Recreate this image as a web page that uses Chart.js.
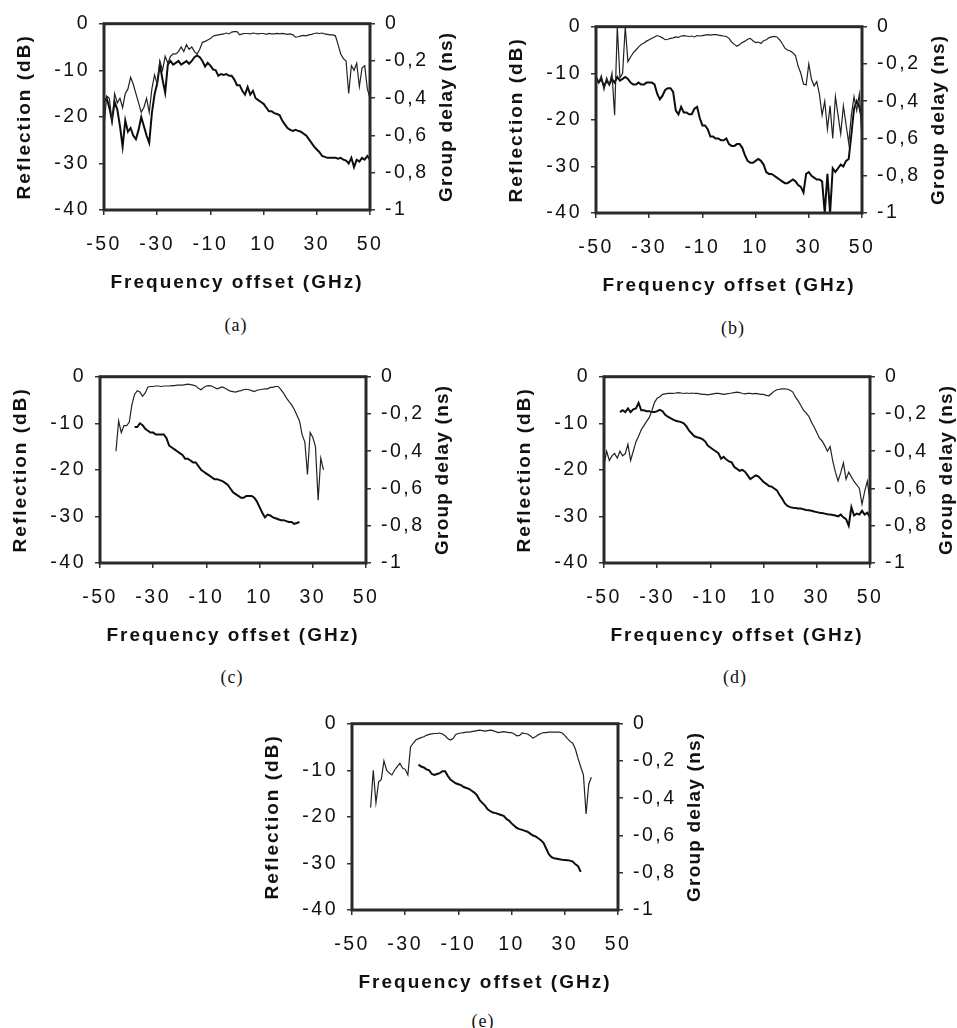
<!DOCTYPE html>
<html><head><meta charset="utf-8">
<script src="https://cdn.jsdelivr.net/npm/chart.js@4.4.1/dist/chart.umd.min.js"></script>
<style>
html,body{margin:0;padding:0;background:#fff;width:957px;height:1028px;overflow:hidden;position:relative}
canvas{position:absolute}
.cap{position:absolute;font-family:'Liberation Serif','Times New Roman',serif;font-size:18px;color:#111;transform:translate(-50%,-50%);letter-spacing:1px;white-space:nowrap}
</style></head><body>
<script>
// ---------------- DATA ----------------
const freqGHz = [-50,-49,-48,-47,-46,-45,-44,-43,-42,-41,-40,-39,-38,-37,-36,-35,-34,-33,-32,-31,-30,-29,-28,-27,-26,-25,-24,-23,-22,-21,-20,-19,-18,-17,-16,-15,-14,-13,-12,-11,-10,-9,-8,-7,-6,-5,-4,-3,-2,-1,0,1,2,3,4,5,6,7,8,9,10,11,12,13,14,15,16,17,18,19,20,21,22,23,24,25,26,27,28,29,30,31,32,33,34,35,36,37,38,39,40,41,42,43,44,45,46,47,48,49,50];
const xTickValues = [-50,-30,-10,10,30,50];
const reflTickValues = [-40,-30,-20,-10,0];
const delayTickValues = [-1,-0.8,-0.6,-0.4,-0.2,0];
const delayTickLabels = ['-1','-0,8','-0,6','-0,4','-0,2','0'];
const xTitle = 'Frequency offset (GHz)';
const reflTitle = 'Reflection (dB)';
const delayTitle = 'Group delay (ns)';
const panelLabels = ['(a)','(b)','(c)','(d)','(e)'];

// Reflection (dB) and group delay (ns), one value per GHz from -50 to 50
const refl_a = [
-22,-15.5,-16,-21,-15,-17,-16,-18,-15,-14,
-11.5,-13,-15,-17,-19,-18,-16,-19,-14,-11,
-13,-8,-10,-7,-8.5,-7,-6.5,-6.5,-6,-5,
-6,-4.5,-5.5,-5,-6,-6.5,-5.5,-4,-3.8,-3.5,
-3.2,-2.7,-2.5,-2.4,-2.3,-2.2,-2,-2.2,-1.8,-1.7,
-1.7,-2.4,-2.2,-2.1,-2.1,-2.2,-2,-2.1,-2.2,-2.1,
-2.1,-2.3,-2.1,-2.2,-2.2,-2.1,-2.2,-2.1,-2.2,-2.3,
-2.2,-2.4,-2.9,-2.8,-2.6,-2.5,-2.6,-2.4,-2.3,-2.1,
-2,-2.1,-2,-2.2,-2.3,-2.4,-2.4,-2.6,-4.5,-6.5,
-7.5,-8,-15,-9,-10,-8.5,-13.5,-9.5,-9,-14,
-16];
const gd_a = [
-0.42,-0.40,-0.45,-0.52,-0.42,-0.46,-0.55,-0.66,-0.52,-0.58,
-0.56,-0.60,-0.62,-0.57,-0.50,-0.55,-0.60,-0.64,-0.48,-0.38,
-0.32,-0.22,-0.30,-0.37,-0.22,-0.20,-0.22,-0.21,-0.20,-0.22,
-0.21,-0.20,-0.215,-0.20,-0.18,-0.17,-0.18,-0.20,-0.23,-0.21,
-0.225,-0.245,-0.25,-0.28,-0.27,-0.275,-0.27,-0.28,-0.28,-0.30,
-0.33,-0.33,-0.36,-0.38,-0.34,-0.38,-0.36,-0.40,-0.41,-0.42,
-0.43,-0.45,-0.47,-0.47,-0.48,-0.485,-0.49,-0.52,-0.54,-0.56,
-0.57,-0.575,-0.57,-0.575,-0.58,-0.59,-0.60,-0.62,-0.64,-0.66,
-0.675,-0.69,-0.71,-0.715,-0.72,-0.72,-0.72,-0.72,-0.725,-0.72,
-0.73,-0.735,-0.75,-0.72,-0.77,-0.73,-0.74,-0.72,-0.73,-0.71,
-0.73];

const refl_b = [
-11,-12,-10.5,-13.5,-11,-12.5,-10,-19,0,-11,
-10,0,-7.5,-6.5,-5.6,-5,-4.4,-3.8,-3.5,-3.1,
-2.8,-2.5,-2.2,-1.9,-2.1,-2.4,-2.8,-2.7,-2.5,-2.4,
-2.2,-2.3,-2,-1.9,-2,-2.1,-2,-2.2,-1.9,-2,
-1.9,-1.8,-1.7,-1.8,-1.7,-1.7,-1.8,-1.9,-2,-2.1,
-2.5,-3.3,-3.8,-4.2,-3.8,-3.4,-3.1,-2.7,-2.5,-3,
-3.4,-3.3,-3.6,-3,-2.8,-2.4,-2.2,-2.1,-2.2,-2.8,
-3.6,-4.6,-5,-5.2,-5.6,-6.2,-8.5,-10,-12.3,-12.5,
-8,-11.3,-12.7,-11.8,-14.5,-19,-16,-22,-17,-24,
-15,-19,-23,-17,-21,-25,-19,-15,-18,-14.5,
-24];
const gd_b = [
-0.27,-0.30,-0.28,-0.32,-0.29,-0.31,-0.28,-0.30,-0.27,-0.29,
-0.28,-0.27,-0.28,-0.30,-0.31,-0.31,-0.30,-0.31,-0.31,-0.30,
-0.30,-0.30,-0.31,-0.36,-0.39,-0.37,-0.34,-0.33,-0.33,-0.35,
-0.45,-0.47,-0.43,-0.46,-0.46,-0.47,-0.47,-0.44,-0.43,-0.49,
-0.53,-0.53,-0.55,-0.59,-0.59,-0.60,-0.60,-0.61,-0.61,-0.60,
-0.63,-0.64,-0.64,-0.63,-0.63,-0.65,-0.69,-0.72,-0.73,-0.73,
-0.72,-0.71,-0.72,-0.74,-0.78,-0.79,-0.79,-0.80,-0.81,-0.82,
-0.83,-0.84,-0.84,-0.83,-0.82,-0.83,-0.85,-0.86,-0.89,-0.79,
-0.78,-0.80,-0.81,-0.82,-0.82,-0.83,-1,-0.79,-1,-0.76,
-0.78,-0.76,-0.74,-0.75,-0.72,-0.71,-0.58,-0.44,-0.40,-0.43,
-0.50];

const refl_c = [
null,null,null,null,null,null,-16,-9.5,-12,-10.5,
-10.5,-9.8,-6,-3.8,-3,-3.3,-4.2,-3.5,-2.2,-2.1,
-2.1,-2,-2,-2.1,-2,-2,-2,-1.9,-1.9,-1.8,
-1.8,-1.8,-1.7,-1.6,-1.7,-1.8,-2,-2.5,-2.8,-2.3,
-2,-1.9,-2,-2.3,-2.6,-2.4,-2.2,-2.5,-2.8,-3.1,
-3.2,-3.3,-3.1,-3,-2.8,-2.7,-2.8,-3,-3.2,-2.9,
-2.8,-2.7,-2.6,-2.6,-2.3,-2.3,-2.1,-2.1,-2.8,-3.5,
-4.5,-5.3,-6,-7,-8.2,-9.5,-12.5,-14,-21,-12,
-13,-15,-26.5,-17.5,-20,null,null,null,null,null,
null,null,null,null,null,null,null,null,null,null,
null];
const gd_c = [
null,null,null,null,null,null,null,null,null,null,
null,null,null,-0.27,-0.27,-0.25,-0.26,-0.28,-0.29,-0.30,
-0.30,-0.31,-0.31,-0.31,-0.31,-0.33,-0.37,-0.38,-0.39,-0.40,
-0.41,-0.42,-0.44,-0.44,-0.45,-0.46,-0.46,-0.48,-0.50,-0.51,
-0.52,-0.53,-0.54,-0.55,-0.55,-0.555,-0.56,-0.57,-0.58,-0.60,
-0.62,-0.63,-0.64,-0.65,-0.65,-0.64,-0.64,-0.64,-0.65,-0.67,
-0.70,-0.73,-0.755,-0.74,-0.745,-0.755,-0.76,-0.765,-0.77,-0.77,
-0.775,-0.78,-0.78,-0.79,-0.785,-0.78,null,null,null,null,
null,null,null,null,null,null,null,null,null,null,
null,null,null,null,null,null,null,null,null,null,
null];

const refl_d = [
-19,-16,-18,-17,-16.5,-17.5,-16,-17,-16.5,-14.5,
-18,-16,-14,-12.8,-11.4,-10.5,-9.6,-8.8,-7.3,-5.5,
-4.6,-4.3,-3.8,-3.7,-3.6,-3.6,-3.6,-3.5,-3.4,-3.5,
-3.6,-3.5,-3.6,-3.5,-3.6,-3.6,-3.7,-3.8,-3.8,-3.9,
-3.8,-3.7,-3.6,-3.6,-3.7,-3.8,-3.7,-3.6,-3.5,-3.4,
-3.3,-3.4,-3.6,-3.7,-3.6,-3.6,-3.7,-3.6,-3.7,-3.8,
-3.8,-4,-4.1,-3.6,-3.1,-2.8,-2.7,-2.6,-2.6,-2.7,
-2.9,-3.3,-4.4,-5.2,-6.2,-7.2,-7.8,-8.5,-9.8,-10.8,
-12,-13.2,-13.8,-14.8,-16,-15,-18.1,-20.5,-22.4,-20.6,
-18.5,-22,-20.5,-21.5,-22.5,-23.2,-24,-27.4,-24.6,-22.4,
-26.7];
const gd_d = [
null,null,null,null,null,null,-0.19,-0.18,-0.19,-0.17,
-0.19,-0.175,-0.17,-0.14,-0.18,-0.18,-0.185,-0.185,-0.19,-0.19,
-0.185,-0.178,-0.185,-0.205,-0.215,-0.222,-0.23,-0.237,-0.24,-0.244,
-0.25,-0.267,-0.29,-0.305,-0.32,-0.325,-0.329,-0.335,-0.347,-0.37,
-0.38,-0.391,-0.40,-0.41,-0.44,-0.43,-0.445,-0.455,-0.46,-0.485,
-0.495,-0.505,-0.50,-0.51,-0.53,-0.55,-0.54,-0.53,-0.535,-0.55,
-0.565,-0.575,-0.587,-0.59,-0.60,-0.61,-0.635,-0.655,-0.68,-0.694,
-0.70,-0.703,-0.705,-0.707,-0.708,-0.712,-0.715,-0.717,-0.72,-0.724,
-0.727,-0.73,-0.732,-0.735,-0.738,-0.74,-0.742,-0.745,-0.75,-0.74,
-0.755,-0.765,-0.80,-0.70,-0.745,-0.735,-0.74,-0.72,-0.74,-0.73,
-0.756];

const refl_e = [
null,null,null,null,null,null,null,-18,-10,-17,
-12.5,-12,-8,-10,-10.6,-11,-10,-9.2,-8.5,-9.5,
-9.8,-11,-5,-4.2,-3.5,-3.2,-3,-2.8,-2.5,-2.3,
-2.2,-2.1,-2.1,-2,-2.2,-2.6,-3.2,-3.5,-3.2,-2.3,
-2.1,-2,-1.9,-1.8,-1.8,-1.7,-1.6,-1.5,-1.4,-1.5,
-1.6,-1.5,-1.4,-1.5,-1.7,-1.9,-1.8,-1.7,-1.8,-1.9,
-1.9,-2.2,-2.6,-2.5,-2,-2.1,-2.2,-2.6,-3.1,-2.8,
-2.4,-2.1,-1.9,-1.9,-1.8,-1.8,-1.8,-1.8,-1.8,-2,
-2.5,-3.2,-3.8,-4.2,-5.5,-7.5,-9.3,-11,-19.4,-13,
-11.5,null,null,null,null,null,null,null,null,null,
null];
const gd_e = [
null,null,null,null,null,null,null,null,null,null,
null,null,null,null,null,null,null,null,null,null,
null,null,null,null,null,-0.22,-0.23,-0.235,-0.245,-0.25,
-0.27,-0.275,-0.27,-0.265,-0.255,-0.255,-0.28,-0.30,-0.31,-0.32,
-0.325,-0.33,-0.34,-0.345,-0.35,-0.36,-0.37,-0.385,-0.41,-0.425,
-0.44,-0.46,-0.47,-0.477,-0.48,-0.485,-0.49,-0.495,-0.51,-0.52,
-0.535,-0.548,-0.56,-0.566,-0.57,-0.575,-0.58,-0.59,-0.60,-0.605,
-0.615,-0.625,-0.64,-0.67,-0.70,-0.716,-0.722,-0.725,-0.728,-0.73,
-0.731,-0.733,-0.735,-0.74,-0.755,-0.765,-0.795,null,null,null,
null,null,null,null,null,null,null,null,null,null,
null];

[['refl_a',refl_a],['gd_a',gd_a],['refl_b',refl_b],['gd_b',gd_b],['refl_c',refl_c],['gd_c',gd_c],
 ['refl_d',refl_d],['gd_d',gd_d],['refl_e',refl_e],['gd_e',gd_e]].forEach(([n,a])=>{
  if (a.length !== freqGHz.length) throw new Error(n + ' has length ' + a.length);
});

// ---------------- LAYOUT / STYLE ----------------
const FONT = "'Liberation Sans', Arial, sans-serif";
const LS_TICKS = '2.5px', LS_TITLES = '2px', LS_RIGHT_TITLE = '1.2px';
const LEFT_W = 95, RIGHT_W = 90, BOTTOM_H = 84, TOP_PAD = 20;
const CANVAS_W = 451, CANVAS_H = 292;

const panels = [
  {refl: refl_a, delay: gd_a, plotLeft: 104, plotTop: 22,  capX: 236, capY: 325},
  {refl: refl_b, delay: gd_b, plotLeft: 596, plotTop: 25,  capX: 733, capY: 328},
  {refl: refl_c, delay: gd_c, plotLeft: 100, plotTop: 375, capX: 232, capY: 677},
  {refl: refl_d, delay: gd_d, plotLeft: 604, plotTop: 375, capX: 735, capY: 677},
  {refl: refl_e, delay: gd_e, plotLeft: 352, plotTop: 722, capX: 483, capY: 1021}
];

// letter spacing follows the font in use (the scanned figure has wide tracking)
const fontDesc = Object.getOwnPropertyDescriptor(CanvasRenderingContext2D.prototype, 'font');
function addTracking(ctx){
  Object.defineProperty(ctx, 'font', {
    configurable: true,
    get(){ return fontDesc.get.call(this); },
    set(v){ fontDesc.set.call(this, v); this.letterSpacing = /bold/.test(v) ? LS_TITLES : LS_TICKS; }
  });
}

const framePlugin = {
  id: 'frame',
  afterDraw(chart){
    const {ctx, chartArea: a} = chart;
    ctx.save();
    ctx.strokeStyle = '#2a2a2a';
    ctx.lineWidth = 3;
    ctx.strokeRect(a.left, a.top, a.right - a.left, a.bottom - a.top);
    // right axis title, reading bottom-to-top
    ctx.font = 'bold 19px ' + FONT;
    ctx.letterSpacing = LS_RIGHT_TITLE;
    ctx.fillStyle = '#111';
    ctx.translate(a.right + 76.5, (a.top + a.bottom) / 2);
    ctx.rotate(-Math.PI / 2);
    ctx.textAlign = 'center';
    ctx.textBaseline = 'middle';
    ctx.fillText(delayTitle, 0, 0);
    ctx.restore();
  }
};

function toPoints(values){ return freqGHz.map((f,i)=>({x:f, y:values[i]})); }

panels.forEach((p, idx) => {
  const cv = document.createElement('canvas');
  cv.width = CANVAS_W; cv.height = CANVAS_H;
  cv.style.width = CANVAS_W + 'px'; cv.style.height = CANVAS_H + 'px';
  cv.style.left = (p.plotLeft - LEFT_W) + 'px';
  cv.style.top = (p.plotTop - TOP_PAD) + 'px';
  document.body.appendChild(cv);
  addTracking(cv.getContext('2d'));

  const cap = document.createElement('div');
  cap.className = 'cap';
  cap.textContent = panelLabels[idx];
  cap.style.left = p.capX + 'px';
  cap.style.top = p.capY + 'px';
  document.body.appendChild(cap);

  const tickGrid = {display: true, drawOnChartArea: false, drawTicks: true, tickLength: 5, color: '#333', lineWidth: 1.5};
  new Chart(cv, {
    type: 'line',
    data: {
      datasets: [
        {label: reflTitle, data: toPoints(p.refl), yAxisID: 'y', borderColor: '#222', borderWidth: 1.2, pointRadius: 0, tension: 0, spanGaps: false},
        {label: delayTitle, data: toPoints(p.delay), yAxisID: 'y2', borderColor: '#0d0d0d', borderWidth: 2, pointRadius: 0, tension: 0, spanGaps: false}
      ]
    },
    options: {
      responsive: false, animation: false, devicePixelRatio: 1,
      layout: {padding: {top: TOP_PAD, left: 0, right: 0, bottom: 0}},
      plugins: {legend: {display: false}, tooltip: {enabled: false}},
      scales: {
        x: {
          type: 'linear', position: 'bottom', min: -50, max: 50,
          afterBuildTicks: s => { s.ticks = xTickValues.map(v => ({value: v})); },
          afterFit: s => { s.height = BOTTOM_H; },
          grid: tickGrid, border: {display: false},
          ticks: {font: {family: FONT, size: 19.5}, color: '#111', padding: 18, maxRotation: 0, autoSkip: false,
                  callback: v => String(v)},
          title: {display: true, text: xTitle, font: {family: FONT, size: 19, weight: 'bold'}, color: '#111', padding: {top: 0, bottom: 0}}
        },
        y: {
          type: 'linear', position: 'left', min: -40, max: 0,
          afterBuildTicks: s => { s.ticks = reflTickValues.map(v => ({value: v})); },
          afterFit: s => { s.width = LEFT_W; },
          grid: tickGrid, border: {display: false},
          ticks: {font: {family: FONT, size: 19.5}, color: '#111', padding: 9, callback: v => String(v)},
          title: {display: true, text: reflTitle, font: {family: FONT, size: 19, weight: 'bold'}, color: '#111', padding: {top: 4, bottom: 0}}
        },
        y2: {
          type: 'linear', position: 'right', min: -1, max: 0,
          afterBuildTicks: s => { s.ticks = delayTickValues.map(v => ({value: v})); },
          afterFit: s => { s.width = RIGHT_W; },
          grid: tickGrid, border: {display: false},
          ticks: {font: {family: FONT, size: 19.5}, color: '#111', padding: 10,
                  callback: (v) => { const k = delayTickValues.findIndex(t => Math.abs(t - v) < 1e-9); return k >= 0 ? delayTickLabels[k] : ''; }},
          title: {display: false}
        }
      }
    },
    plugins: [framePlugin]
  });
});
</script>
</body></html>
